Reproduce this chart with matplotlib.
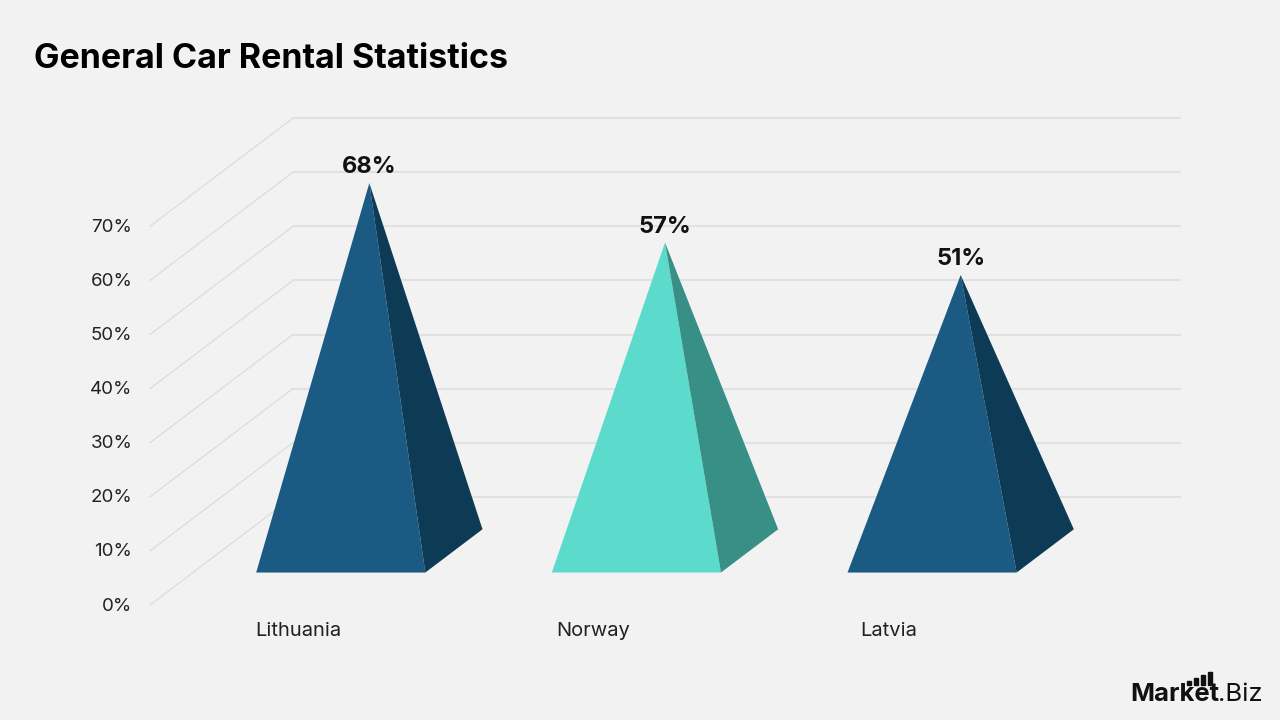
import matplotlib.pyplot as plt
from matplotlib.patches import Polygon, Rectangle

# data
countries = ['Lithuania', 'Norway', 'Latvia']
values = [68, 57, 51]
front_colors = ['#1a5a83', '#5cdbcd', '#1a5a83']
side_colors = ['#0d3a55', '#378f86', '#0d3a55']
ticks = [0, 10, 20, 30, 40, 50, 60, 70]

plt.rcParams['font.family'] = ['Inter', 'DejaVu Sans']

fig = plt.figure(figsize=(12.8, 7.2), dpi=100, facecolor='#f2f2f2')
ax = fig.add_axes([0, 0, 1, 1])
ax.set_facecolor('#f2f2f2')
# front plane: x=0 at px 150, one category = 295.67 px; 0% at px 605, 1% = 5.41 px
ax.set_xlim(-150 / 295.67, (1280 - 150) / 295.67)
ax.set_ylim(-115 / 5.41, 605 / 5.41)
ax.axis('off')

# oblique depth vector (full depth)
dx, dy = 143 / 295.67, 20.0
n = len(countries)


def proj(x, y, z):
    return (x + z * dx, y + z * dy)


# back wall grid and side diagonals
for t in ticks:
    ax.plot([dx, n + dx], [t + dy, t + dy], color='#dcdcdc', lw=1.1, zorder=1)
    ax.plot([0, dx], [t, t + dy], color='#dcdcdc', lw=0.9, zorder=1)
    ax.text(-0.06, t - 0.2, f'{t}%', ha='right', va='center', fontsize=13.5, color='#222222')

# pyramids
w = 0.286
z0, z1, zc = 0.3, 0.7, 0.5
for i, (name, v) in enumerate(zip(countries, values)):
    c = i + 0.5
    apex = proj(c, v, zc)
    fl = proj(c - w, 0, z0)
    fr = proj(c + w, 0, z0)
    br = proj(c + w, 0, z1)
    ax.add_patch(Polygon([fl, fr, apex], closed=True, facecolor=front_colors[i],
                         edgecolor='none', zorder=3))
    ax.add_patch(Polygon([fr, br, apex], closed=True, facecolor=side_colors[i],
                         edgecolor='none', zorder=3))
    ax.text(apex[0], apex[1] + 0.9, f'{v}%', ha='center', va='bottom', fontsize=17,
            fontweight='bold', color='#111111', zorder=4)
    ax.text(c, -4.8, name, ha='center', va='center', fontsize=14.5, color='#222222')

# title
fig.text(34 / 1280, 1 - 59 / 720, 'General Car Rental Statistics', ha='left', va='center',
         fontsize=24.5, fontweight='bold', color='#000000')

# logo
fig.text(1219 / 1280, 1 - 701 / 720, 'Market', ha='right', va='baseline', fontsize=18.5,
         fontweight='bold', color='#111111')
fig.text(1218 / 1280, 1 - 701 / 720, '.Biz', ha='left', va='baseline', fontsize=18.5,
         color='#111111')
for k, h in enumerate([4, 7, 10, 13]):
    fig.add_artist(Rectangle(((1187 + k * 7) / 1280, 1 - 685 / 720), 4 / 1280, h / 720,
                             transform=fig.transFigure, color='#111111'))

fig.savefig('out.png', dpi=100, facecolor=fig.get_facecolor())
